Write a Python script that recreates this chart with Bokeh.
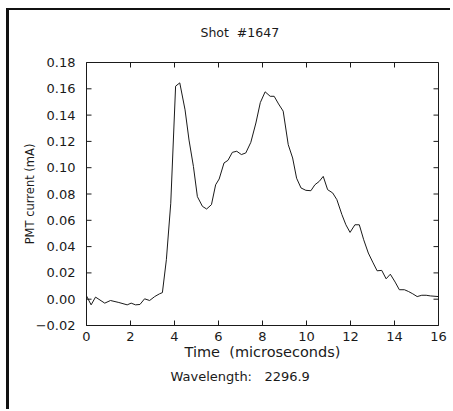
import math
from bokeh.plotting import figure
from bokeh.models import LinearAxis, FixedTicker, Title, Range1d
from bokeh.embed import file_html
from bokeh.resources import INLINE

time_us = [0.0, 0.21, 0.41, 0.83, 1.09, 1.47, 1.85, 2.03, 2.23, 2.43,
           2.64, 2.87, 3.10, 3.32, 3.45, 3.63, 3.83, 4.05, 4.24, 4.48,
           4.66, 4.86, 5.04, 5.27, 5.46, 5.68, 5.87, 6.03, 6.25, 6.43,
           6.63, 6.83, 7.04, 7.24, 7.47, 7.70, 7.90, 8.12, 8.35, 8.53,
           8.73, 8.94, 9.17, 9.37, 9.55, 9.75, 9.97, 10.20, 10.38, 10.58,
           10.76, 10.96, 11.19, 11.38, 11.61, 11.79, 11.98, 12.20, 12.40, 12.60,
           12.81, 13.01, 13.21, 13.42, 13.62, 13.81, 14.03, 14.22, 14.45, 14.63,
           14.83, 15.03, 15.24, 15.44, 15.63, 16.0]
pmt_current = [0.0025, -0.0043, 0.0016, -0.0030, -0.0010, -0.0025, -0.0043, -0.0030, -0.0043, -0.0040,
               0.0003, -0.0010, 0.0020, 0.0041, 0.0050, 0.0300, 0.0730, 0.1620, 0.1645, 0.1440,
               0.1210, 0.1010, 0.0780, 0.0706, 0.0686, 0.0719, 0.0870, 0.0914, 0.1036, 0.1056,
               0.1117, 0.1125, 0.1100, 0.1112, 0.1193, 0.1340, 0.1495, 0.1577, 0.1543, 0.1543,
               0.1485, 0.1430, 0.1175, 0.1074, 0.0920, 0.0846, 0.0828, 0.0825, 0.0870, 0.0896,
               0.0934, 0.0833, 0.0808, 0.0757, 0.0643, 0.0566, 0.0508, 0.0566, 0.0566, 0.0452,
               0.0351, 0.0282, 0.0216, 0.0219, 0.0155, 0.0190, 0.0130, 0.0072, 0.0072, 0.0059,
               0.0041, 0.0020, 0.0030, 0.0030, 0.0025, 0.0020]

x_ticks = [0, 2, 4, 6, 8, 10, 12, 14, 16]
y_ticks = [-0.02, 0.0, 0.02, 0.04, 0.06, 0.08, 0.10, 0.12, 0.14, 0.16, 0.18]
y_tick_labels = ["\u22120.02", "0.00", "0.02", "0.04", "0.06", "0.08", "0.10", "0.12", "0.14", "0.16", "0.18"]
x_min, x_max = 0, 16
y_min, y_max = -0.02, 0.18

NB = "\u00a0"
title_text = "Shot" + NB + NB + "#1647"
x_label = "Time" + NB + NB + "(microseconds)"
y_label = "PMT current (mA)"
note_text = "Wavelength:" + NB + NB + NB + "2296.9"

FONT = "DejaVu Sans"
INK = "#1a1a1a"

p = figure(width=444, height=401, output_backend="svg", toolbar_location=None,
           x_range=Range1d(x_min, x_max), y_range=Range1d(y_min, y_max),
           x_axis_location=None, y_axis_location=None,
           min_border_left=77, min_border_right=15, min_border_top=52, min_border_bottom=86)
p.styles = {"margin-left": "6px", "margin-top": "8px",
            "border-left": "3px solid #111", "border-top": "2px solid #111"}
p.grid.visible = False
p.outline_line_color = INK
p.outline_line_width = 1
p.background_fill_color = "white"
p.border_fill_color = "white"

# a blank second line lifts the title text further above the frame
t = Title(text=title_text + "\n" + NB, align="left", offset=114,
          text_font=FONT, text_font_size="12.5px",
          text_font_style="normal", text_color=INK, standoff=15)
p.add_layout(t, "above")

def style_axis(ax):
    ax.axis_line_color = INK
    ax.major_tick_line_color = None
    ax.major_tick_in = 0
    ax.major_tick_out = 0
    ax.minor_tick_line_color = None
    ax.major_label_text_font = FONT
    ax.major_label_text_font_size = "13px"
    ax.major_label_text_color = INK
    ax.axis_label_text_font = FONT
    ax.axis_label_text_font_style = "normal"
    ax.axis_label_text_color = INK

xb = LinearAxis(ticker=FixedTicker(ticks=x_ticks), axis_label=x_label)
style_axis(xb)
xb.major_label_standoff = 6
xb.axis_label_standoff = 0
xb.axis_label_text_font_size = "14.5px"
p.add_layout(xb, "below")

w = Title(text=note_text, align="left", offset=84, text_font=FONT, text_font_size="13px",
          text_font_style="normal", text_color=INK, standoff=8)
p.add_layout(w, "below")

yl = LinearAxis(ticker=FixedTicker(ticks=y_ticks), axis_label=y_label,
                major_label_overrides={tk: s for tk, s in zip(y_ticks, y_tick_labels)})
style_axis(yl)
yl.major_label_standoff = 11
yl.axis_label_standoff = -4
yl.axis_label_text_font_size = "11.5px"
p.add_layout(yl, "left")

# inward tick marks on all four sides, 5 screen pixels long
tick_kw = dict(length=5, length_units="screen", line_color=INK, line_width=1)
p.ray(x=x_ticks, y=[y_min] * len(x_ticks), angle=math.pi / 2, **tick_kw)
p.ray(x=x_ticks, y=[y_max] * len(x_ticks), angle=-math.pi / 2, **tick_kw)
p.ray(x=[x_min] * len(y_ticks), y=y_ticks, angle=0, **tick_kw)
p.ray(x=[x_max] * len(y_ticks), y=y_ticks, angle=math.pi, **tick_kw)

p.line(time_us, pmt_current, line_color=INK, line_width=1)

open("out.html", "w").write(file_html(p, INLINE))
